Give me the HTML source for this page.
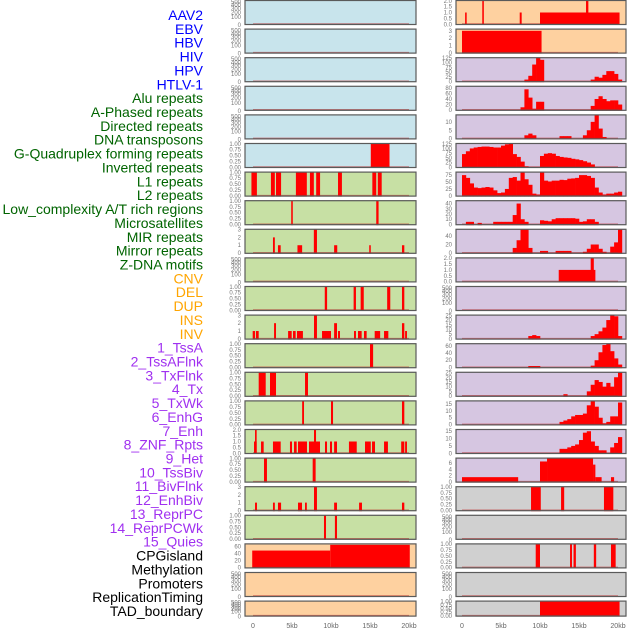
<!DOCTYPE html>
<html><head><meta charset="utf-8">
<style>
html,body{margin:0;padding:0;background:#fff;width:630px;height:630px;overflow:hidden}
svg{display:block}
text{font-family:"Liberation Sans",sans-serif}
</style></head>
<body>
<svg id="chart" width="630" height="630" viewBox="0 0 630 630" xmlns="http://www.w3.org/2000/svg">
<g id="labels"></g>
<g id="panels"></g>
<g id="xaxes"></g>
</svg>
<script>
// ---- labels ----
const trackLabels = ["AAV2","EBV","HBV","HIV","HPV","HTLV-1","Alu repeats","A-Phased repeats","Directed repeats","DNA transposons","G-Quadruplex forming repeats","Inverted repeats","L1 repeats","L2 repeats","Low_complexity A/T rich regions","Microsatellites","MIR repeats","Mirror repeats","Z-DNA motifs","CNV","DEL","DUP","INS","INV","1_TssA","2_TssAFlnk","3_TxFlnk","4_Tx","5_TxWk","6_EnhG","7_Enh","8_ZNF_Rpts","9_Het","10_TssBiv","11_BivFlnk","12_EnhBiv","13_ReprPC","14_ReprPCWk","15_Quies","CPGisland","Methylation","Promoters","ReplicationTiming","TAD_boundary"];
const labelGroups = [6,13,5,15,5];
const labelColors = ["#0000ff","#006400","#ffa500","#a030f0","#000000"];
const xTicks = [0,5,10,15,20];
const xTickLabels = ["0","5kb","10kb","15kb","20kb"];

// ---- tick sets ----
const tEmpty = ["0","100","200","300","400","500"];
const tFrac = [0,0.25,0.5,0.75,1];
const tFracLabels = ["0.00","0.25","0.50","0.75","1.00"];
const t3 = [0,1,2,3];
const t2 = [0,0.5,1,1.5,2];
const t125 = [0,25,50,75,100,125];
const t80 = [0,20,40,60,80];
const t10 = [0,5,10];
const t75 = [0,25,50,75];
const t40 = [0,10,20,30,40];
const t40b = [0,20,40];
const t25 = [0,5,10,15,20,25];
const t60 = [0,20,40,60];
const t15 = [0,5,10,15];
const t6 = [0,2,4,6];

// ---- left column segments [startKb, endKb, value] ----
const L5 = [[15.1,17.5,1]];
const L6 = [[-0.2,0.5,1],[2.3,2.8,1],[2.95,3.6,1],[5.5,6.9,1],[7.3,7.8,1],[8.1,8.6,1],[10.9,11.4,1],[15.3,15.8,1],[16.0,16.5,1]];
const L7 = [[4.9,5.1,1],[15.8,16.1,1]];
const L8 = [[2.56,2.8,2],[3.2,3.55,1],[5.7,6.3,1],[7.8,8.2,3],[10.4,10.8,1],[14.9,15.1,1],[19.1,19.4,1]];
const L10 = [[9.2,9.5,1],[12.9,13.2,1],[13.8,14.2,1],[17.2,17.6,1],[19.1,19.4,1]];
const L11 = [[-0.04,0.26,1],[0.38,0.73,1],[2.7,2.95,2],[4.5,4.96,1],[5.13,5.47,1],[5.64,6.4,1],[7.82,8.2,3],[8.85,10.0,1],[10.4,10.77,2],[10.9,11.15,1],[12.95,13.2,1],[13.46,13.93,1],[14.23,14.57,1],[15.6,16.3,1],[16.8,17.35,1],[19.1,19.4,2],[19.5,19.74,1]];
const L12 = [[15.0,15.4,1]];
const L13 = [[0.73,1.63,1],[2.18,2.95,1],[6.67,7.05,1]];
const L14 = [[6.3,6.54,1],[10.0,10.26,1],[19.1,19.4,1]];
const L15 = [[0.13,0.47,1],[0.26,0.47,2],[1.03,1.37,1],[2.56,3.55,1],[4.74,5.0,1],[5.26,5.6,1],[5.77,6.92,1],[7.18,8.59,1],[7.82,8.08,2],[9.23,9.49,1],[9.87,10.13,1],[10.4,10.77,1],[12.3,13.3,1],[14.36,15.1,1],[15.26,15.64,1],[16.8,17.3,1],[19.0,19.4,1],[19.5,19.74,1]];
const L16 = [[1.41,1.79,1],[7.65,8.03,1]];
const L17 = [[0.26,0.51,1],[2.56,2.8,1],[3.2,3.6,1],[5.77,6.28,1],[6.67,6.9,1],[7.82,8.2,3],[10.4,10.77,1],[13.6,13.97,1],[19.1,19.4,1]];
const L18 = [[9.1,9.36,1],[10.5,10.77,1]];
const L19 = [[-0.1,9.9,48],[9.9,20.1,64]];

// ---- right column ----
const R0 = [[0.4,0.6,1],[2.6,2.8,2],[7.4,7.65,1],[10.0,20.2,1],[15.9,16.2,2]];
const R1 = [[0.0,10.2,3]];
// profiles: 0.5kb bins starting at 0kb (41 bins)
const R2 = [0,0,0,0,0,0,0,0,0,0,0,0,0,0,0,0,10,30,90,125,115,0,0,0,0,0,0,0,0,0,0,0,0,10,25,20,35,55,55,40,10];
const R3 = [0,0,0,0,0,0,0,0,0,0,0,0,0,0,0,10,75,45,5,30,30,0,0,0,0,0,0,0,0,0,0,0,0,15,40,50,40,32,35,35,20];
const R4 = [0,0,0,0,0,0,0,0,0,0,0,0,0,0,0,0,2,3,2,0,0,0,0,0,0,1.5,1.5,1.5,0,0,0,2,5,10,14,6,1,0,0,0,0];
const R5 = [70,85,100,105,108,110,110,108,105,105,115,122,125,70,55,30,5,0,0,0,60,72,75,72,60,55,52,50,45,42,38,32,25,15,0,0,0,0,0,0,0];
const R6 = [75,65,45,30,28,30,32,30,20,10,12,25,65,68,55,85,60,40,8,5,85,55,52,55,55,58,57,62,63,65,75,75,72,65,30,12,5,8,8,12,15];
const R7 = [0,5,5,0,3,0,0,0,5,5,5,5,5,18,40,10,5,0,0,0,8,7,6,10,12,12,12,12,12,11,5,6,10,10,5,0,0,0,0,0,0];
const R8 = [0,0,0,0,0,0,0,0,0,0,0,0,0,12,30,55,55,12,0,0,5,5,0,0,5,5,5,5,0,0,0,3,10,20,20,10,3,0,15,25,55];
const R9 = [[12.4,17.1,1],[16.5,16.9,2]];
const R11 = [0,0,0,0,0,0,0,0,0,0,0,0,0,0,0,0,0,3,4,3,0,0,0,0,0,0,0,0,0,0,0,0,0,3,5,8,12,20,25,24,3];
const R12 = [0,0,0,0,0,0,0,0,0,0,0,0,0,0,0,0,0,4,4,4,0,0,0,0,0,0,0,0,0,0,0,0,0,5,20,42,62,65,45,25,8];
const R13 = [0,0,0,0,0,0,0,0,0,0,0,0,0,0,0,0,0,0,0,0,0,0,0,0,0,0,2,0,0,0,0,0,5,12,17,15,10,14,10,20,25];
const R14 = [0,0,0,0,0,0,0,0,0,0,0,0,0,0,0,0,0,0,0,0,0,0,0,0,0,2,3,4,6,7,7,8,14,17,13,5,1,2,6,6,16];
const R15 = [0,0,0,0,0,0,0,0,0,0,0,0,0,0,0,0,0,0,0,0,0,0,0,0,0,3,3,4,5,6,9,14,15,8,5,2,2,0,4,7,11];
const R16 = [[0,7.2,1.5],[10.0,10.9,6.5],[10.9,16.8,7.5],[16.8,17.1,5.5],[17.1,17.9,1.5],[19.1,19.5,1.5]];
const R17 = [[8.85,10.1,1],[12.7,13.1,1],[18.2,19.4,1]];
const R19 = [[9.45,10.0,1],[13.85,14.1,1],[14.3,14.6,1],[16.9,17.2,1],[19.1,19.7,1]];
const R21 = [[10.0,20.2,1]];

const BLUE="#c8e4ec", GREEN="#c7e0a4", PEACH="#fed1a0", LAV="#d6c6e1", GREY="#d0d0d0";

const leftCol = [
 {bg:BLUE},{bg:BLUE},{bg:BLUE},{bg:BLUE},{bg:BLUE},
 {bg:BLUE,ymax:1,ticks:tFrac,tl:tFracLabels,segs:L5},
 {bg:GREEN,ymax:1,ticks:tFrac,tl:tFracLabels,segs:L6},
 {bg:GREEN,ymax:1,ticks:tFrac,tl:tFracLabels,segs:L7},
 {bg:GREEN,ymax:3,ticks:t3,segs:L8},
 {bg:GREEN},
 {bg:GREEN,ymax:1,ticks:tFrac,tl:tFracLabels,segs:L10},
 {bg:GREEN,ymax:3,ticks:t3,segs:L11},
 {bg:GREEN,ymax:1,ticks:tFrac,tl:tFracLabels,segs:L12},
 {bg:GREEN,ymax:1,ticks:tFrac,tl:tFracLabels,segs:L13},
 {bg:GREEN,ymax:1,ticks:tFrac,tl:tFracLabels,segs:L14},
 {bg:GREEN,ymax:2,ticks:t2,tl:["0.0","0.5","1.0","1.5","2.0"],segs:L15},
 {bg:GREEN,ymax:1,ticks:tFrac,tl:tFracLabels,segs:L16},
 {bg:GREEN,ymax:3,ticks:t3,segs:L17},
 {bg:GREEN,ymax:1,ticks:tFrac,tl:tFracLabels,segs:L18},
 {bg:PEACH,ymax:66,ticks:t60,segs:L19},
 {bg:PEACH},{bg:PEACH}
];
const rightCol = [
 {bg:PEACH,ymax:2,ticks:t2,tl:["0.0","0.5","1.0","1.5","2.0"],segs:R0},
 {bg:PEACH,ymax:3.2,ticks:t3,segs:R1},
 {bg:LAV,ymax:125,ticks:t125,bins:R2},
 {bg:LAV,ymax:85,ticks:t80,bins:R3},
 {bg:LAV,ymax:14,ticks:t10,bins:R4},
 {bg:LAV,ymax:125,ticks:t125,bins:R5},
 {bg:LAV,ymax:85,ticks:t75,bins:R6},
 {bg:LAV,ymax:45,ticks:t40,bins:R7},
 {bg:LAV,ymax:55,ticks:t40b,bins:R8},
 {bg:LAV,ymax:2,ticks:t2,tl:["0.0","0.5","1.0","1.5","2.0"],segs:R9},
 {bg:LAV},
 {bg:LAV,ymax:25,ticks:t25,bins:R11},
 {bg:LAV,ymax:65,ticks:t60,bins:R12},
 {bg:LAV,ymax:25,ticks:t25,bins:R13},
 {bg:LAV,ymax:17,ticks:t15,bins:R14},
 {bg:LAV,ymax:16,ticks:t15,bins:R15},
 {bg:LAV,ymax:7.5,ticks:t6,segs:R16},
 {bg:GREY,ymax:1,ticks:tFrac,tl:tFracLabels,segs:R17},
 {bg:GREY},
 {bg:GREY,ymax:1,ticks:tFrac,tl:tFracLabels,segs:R19},
 {bg:GREY},
 {bg:GREY,ymax:1,ticks:tFrac,tl:tFracLabels,segs:R21}
];

const NS="http://www.w3.org/2000/svg";
function mk(tag,attrs,parent){const e=document.createElementNS(NS,tag);for(const k in attrs)e.setAttribute(k,attrs[k]);parent.appendChild(e);return e;}

// labels
const lg=document.getElementById('labels');
let gi=0,cnt=0;
trackLabels.forEach((t,i)=>{
  if(cnt>=labelGroups[gi]){gi++;cnt=0;}
  cnt++;
  const e=mk('text',{x:203,y:(15+i*13.86+5).toFixed(1),'text-anchor':'end','font-size':'14',fill:labelColors[gi]},lg);
  
  
  e.textContent=t;
});

const pg=document.getElementById('panels');
const emptyFr=[0,0.35,0.55,0.72,0.86,1];
function drawCol(col,x0,x1,px0,side){
  const kbScale=7.8;
  const xs=kb=>px0+kb*kbScale;
  col.forEach((p,i)=>{
    const top=i*28.6, h=(i===21)?16:25, bot=top+h;
    const g=mk('g',{},pg);
    
    
    mk('rect',{x:x0,y:top,width:x1-x0,height:h,fill:p.bg},g);
    const ih=h-1.5;
    const ys=v=>bot-0.75-(v/p.ymax)*ih;
    if(p.segs){p.segs.forEach(s=>{
      const r=mk('rect',{x:xs(Math.max(s[0],-0.9)).toFixed(2),y:ys(s[2]).toFixed(2),width:Math.max(1.2,(s[1]-Math.max(s[0],-0.9))*kbScale).toFixed(2),height:(bot-ys(s[2])).toFixed(2),fill:'#ff0000'},g);
      
      
    });}
    if(p.bins){p.bins.forEach((v,k)=>{ if(!v)return;
      const r=mk('rect',{x:xs(k*0.5).toFixed(2),y:ys(v).toFixed(2),width:(0.5*kbScale+0.3).toFixed(2),height:(bot-ys(v)).toFixed(2),fill:'#ff0000'},g);
      
      
    });}
    mk('line',{x1:xs(0),x2:xs(20),y1:bot-1,y2:bot-1,stroke:'rgba(190,30,30,0.55)','stroke-width':1.5},g);
    mk('rect',{x:x0,y:top+0.5,width:x1-x0,height:h-1,fill:'none',stroke:'#5a5a5a','stroke-width':1.2},g);
    // ticks
    const tg=mk('g',{},g);
    
    
    if(!p.ymax){
      tEmpty.forEach((t,k)=>{const e=mk('text',{x:x0-4,y:(bot-emptyFr[k]*(h-2)+2).toFixed(1),'text-anchor':'end','font-size':'6',fill:'#777'},tg);e.textContent=t;});
    } else {
      p.ticks.forEach((t,k)=>{const e=mk('text',{x:x0-4,y:(ys(t)+2).toFixed(1),'text-anchor':'end','font-size':'6',fill:'#777'},tg);e.textContent=p.tl?p.tl[k]:String(t);});
    }
  });
  const xg=document.getElementById('xaxes');
  xTicks.forEach((t,k)=>{const e=mk('text',{x:xs(t),y:628,'text-anchor':'middle','font-size':'7',fill:'#666'},xg);
    
    
    e.textContent=xTickLabels[k];});
}
drawCol(leftCol,245,416,253,'left');
drawCol(rightCol,456,626,462,'right');
</script>
</body></html>
